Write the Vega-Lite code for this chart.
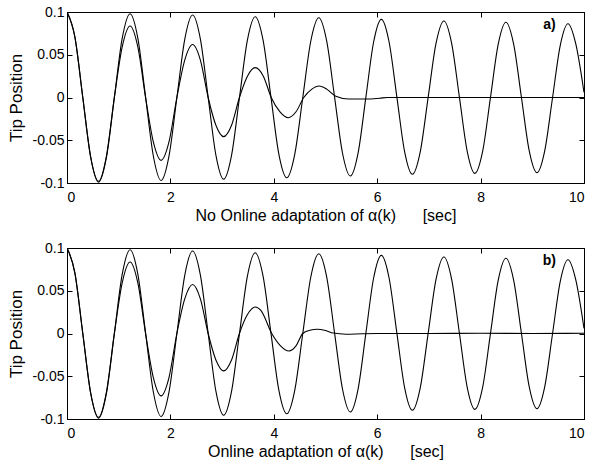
{
  "$schema": "https://vega.github.io/schema/vega-lite/v6.json",
  "padding": {"left": 6, "top": 4, "right": 4, "bottom": 4},
  "background": "white",
  "config": {
    "font": "Liberation Sans",
    "view": {"stroke": "black", "strokeWidth": 1},
    "axis": {
      "grid": false,
      "domainColor": "black",
      "tickColor": "black",
      "tickSize": -5,
      "labelFont": "Liberation Sans",
      "labelFontSize": 14,
      "labelColor": "black",
      "titleFont": "Liberation Sans",
      "titleFontSize": 16,
      "titleFontWeight": "normal",
      "titleColor": "black"
    }
  },
  "datasets": {
    "u": [
      {"t": 0, "y": 0.1}, {"t": 0.1525, "y": 0.0708}, {"t": 0.305, "y": 0.0005}, {"t": 0.4575, "y": -0.0698}, {"t": 0.61, "y": -0.099},
      {"t": 0.7625, "y": -0.0701}, {"t": 0.915, "y": -0.0005}, {"t": 1.0675, "y": 0.0691}, {"t": 1.22, "y": 0.098},
      {"t": 1.37, "y": 0.0694}, {"t": 1.52, "y": 0.0005}, {"t": 1.67, "y": -0.0684}, {"t": 1.82, "y": -0.097},
      {"t": 1.9725, "y": -0.0686}, {"t": 2.125, "y": -0.0003}, {"t": 2.2775, "y": 0.0681}, {"t": 2.43, "y": 0.0965},
      {"t": 2.58, "y": 0.0683}, {"t": 2.73, "y": 0.0004}, {"t": 2.88, "y": -0.0675}, {"t": 3.03, "y": -0.0957},
      {"t": 3.1825, "y": -0.0678}, {"t": 3.335, "y": -0.0006}, {"t": 3.4875, "y": 0.0666}, {"t": 3.64, "y": 0.0945},
      {"t": 3.7925, "y": 0.067}, {"t": 3.945, "y": 0.0004}, {"t": 4.0975, "y": -0.0662}, {"t": 4.25, "y": -0.0938},
      {"t": 4.405, "y": -0.0664}, {"t": 4.56, "y": -0.0003}, {"t": 4.715, "y": 0.0658}, {"t": 4.87, "y": 0.0933},
      {"t": 5.0225, "y": 0.0662}, {"t": 5.175, "y": 0.0008}, {"t": 5.3275, "y": -0.0646}, {"t": 5.48, "y": -0.0918},
      {"t": 5.63, "y": -0.065}, {"t": 5.78, "y": -0.0002}, {"t": 5.93, "y": 0.0646}, {"t": 6.08, "y": 0.0914},
      {"t": 6.23, "y": 0.0649}, {"t": 6.38, "y": 0.0008}, {"t": 6.53, "y": -0.0633}, {"t": 6.68, "y": -0.0898},
      {"t": 6.8325, "y": -0.0636}, {"t": 6.985, "y": -0.0002}, {"t": 7.1375, "y": 0.0632}, {"t": 7.29, "y": 0.0895},
      {"t": 7.44, "y": 0.0634}, {"t": 7.59, "y": 0.0004}, {"t": 7.74, "y": -0.0626}, {"t": 7.89, "y": -0.0887},
      {"t": 8.04, "y": -0.0628}, {"t": 8.19, "y": -0.0004}, {"t": 8.34, "y": 0.0621}, {"t": 8.49, "y": 0.088},
      {"t": 8.64, "y": 0.0622}, {"t": 8.79, "y": 0}, {"t": 8.94, "y": -0.0622}, {"t": 9.09, "y": -0.088},
      {"t": 9.24, "y": -0.0625}, {"t": 9.39, "y": -0.0009}, {"t": 9.54, "y": 0.0608}, {"t": 9.69, "y": 0.0863},
      {"t": 9.84, "y": 0.063}, {"t": 10, "y": 0.006}
    ],
    "da": [
      {"t": 0, "y": 0.1}, {"t": 0.1525, "y": 0.0707}, {"t": 0.305, "y": 0.0}, {"t": 0.4575, "y": -0.0693}, {"t": 0.61, "y": -0.098},
      {"t": 0.7625, "y": -0.0685}, {"t": 0.915, "y": -0.0005}, {"t": 1.0675, "y": 0.0591}, {"t": 1.22, "y": 0.0836},
      {"t": 1.37, "y": 0.0591}, {"t": 1.52, "y": 0.0}, {"t": 1.67, "y": -0.052}, {"t": 1.82, "y": -0.0735},
      {"t": 1.9725, "y": -0.052}, {"t": 2.125, "y": 0.0}, {"t": 2.2775, "y": 0.0438}, {"t": 2.43, "y": 0.062},
      {"t": 2.58, "y": 0.0438}, {"t": 2.73, "y": 0.0}, {"t": 2.88, "y": -0.0324}, {"t": 3.03, "y": -0.0458},
      {"t": 3.1825, "y": -0.0324}, {"t": 3.335, "y": 0.0}, {"t": 3.4875, "y": 0.0247}, {"t": 3.64, "y": 0.0349},
      {"t": 3.8, "y": 0.0247}, {"t": 3.95, "y": 0.0}, {"t": 4.12, "y": -0.0167}, {"t": 4.28, "y": -0.0236},
      {"t": 4.43, "y": -0.0167}, {"t": 4.58, "y": 0.0}, {"t": 4.73, "y": 0.0095}, {"t": 4.88, "y": 0.0134},
      {"t": 5.03, "y": 0.0095}, {"t": 5.2, "y": 0.0015}, {"t": 5.45, "y": -0.0018}, {"t": 5.8, "y": -0.0018},
      {"t": 6.05, "y": -0.0008}, {"t": 6.2, "y": 0}, {"t": 7, "y": 0}, {"t": 8, "y": 0}, {"t": 9, "y": 0}, {"t": 10, "y": 0}
    ],
    "db": [
      {"t": 0, "y": 0.1}, {"t": 0.1525, "y": 0.0707}, {"t": 0.305, "y": 0.0}, {"t": 0.4575, "y": -0.0693}, {"t": 0.61, "y": -0.098},
      {"t": 0.7625, "y": -0.0685}, {"t": 0.915, "y": -0.0005}, {"t": 1.0675, "y": 0.0592}, {"t": 1.22, "y": 0.0837},
      {"t": 1.37, "y": 0.0592}, {"t": 1.52, "y": 0.0}, {"t": 1.67, "y": -0.0515}, {"t": 1.82, "y": -0.0729},
      {"t": 1.9725, "y": -0.0515}, {"t": 2.125, "y": 0.0}, {"t": 2.2775, "y": 0.0405}, {"t": 2.43, "y": 0.0573},
      {"t": 2.58, "y": 0.0405}, {"t": 2.73, "y": 0.0}, {"t": 2.88, "y": -0.0309}, {"t": 3.03, "y": -0.0437},
      {"t": 3.1825, "y": -0.0309}, {"t": 3.335, "y": 0.0}, {"t": 3.4875, "y": 0.0219}, {"t": 3.64, "y": 0.031},
      {"t": 3.75, "y": 0.027}, {"t": 3.96, "y": 0.0}, {"t": 4.13, "y": -0.0144}, {"t": 4.29, "y": -0.0204},
      {"t": 4.43, "y": -0.0144}, {"t": 4.56, "y": 0.0}, {"t": 4.7, "y": 0.0038}, {"t": 4.84, "y": 0.005},
      {"t": 5.0, "y": 0.0035}, {"t": 5.15, "y": 0.0005}, {"t": 5.4, "y": -0.0008}, {"t": 5.7, "y": -0.0003},
      {"t": 6.0, "y": 0.0}, {"t": 7, "y": 0}, {"t": 8, "y": 0.0003}, {"t": 9, "y": 0}, {"t": 10, "y": 0.0003}
    ]
  },
  "vconcat": [
    {
      "width": 517,
      "height": 171,
      "layer": [
        {
          "data": {"name": "u"},
          "mark": {"type": "line", "color": "black", "strokeWidth": 1.1, "interpolate": "monotone", "clip": true},
          "encoding": {
            "x": {"field": "t", "type": "quantitative", "scale": {"domain": [0, 10], "nice": false, "zero": false},
                  "axis": {"values": [0, 2, 4, 6, 8, 10], "labelExpr": "'' + datum.value", "labelPadding": 12, "titlePadding": 3,
                           "title": "No Online adaptation of α(k)\u00a0\u00a0\u00a0\u00a0\u00a0\u00a0[sec]"}},
            "y": {"field": "y", "type": "quantitative", "scale": {"domain": [-0.1, 0.1], "nice": false, "zero": false},
                  "axis": {"values": [-0.1, -0.05, 0, 0.05, 0.1], "labelExpr": "'' + datum.value", "labelPadding": 8, "titlePadding": 7,
                           "title": "Tip Position", "titleFontSize": 17}}
          }
        },
        {
          "data": {"name": "da"},
          "mark": {"type": "line", "color": "black", "strokeWidth": 1.1, "interpolate": "monotone", "clip": true},
          "encoding": {
            "x": {"field": "t", "type": "quantitative", "axis": null},
            "y": {"field": "y", "type": "quantitative", "axis": null}
          }
        },
        {
          "data": {"values": [{"t": 9.33, "y": 0.085, "label": "a)"}]},
          "mark": {"type": "text", "fontWeight": "bold", "fontSize": 14, "color": "black", "align": "center", "baseline": "middle"},
          "encoding": {
            "x": {"field": "t", "type": "quantitative",
                  "axis": {"orient": "top", "values": [0, 2, 4, 6, 8, 10], "labels": false, "title": null, "domain": false}},
            "y": {"field": "y", "type": "quantitative",
                  "axis": {"orient": "right", "values": [-0.1, -0.05, 0, 0.05, 0.1], "labels": false, "title": null, "domain": false}},
            "text": {"field": "label"}
          }
        }
      ],
      "resolve": {"axis": {"x": "independent", "y": "independent"}}
    },
    {
      "width": 517,
      "height": 171,
      "layer": [
        {
          "data": {"name": "u"},
          "mark": {"type": "line", "color": "black", "strokeWidth": 1.1, "interpolate": "monotone", "clip": true},
          "encoding": {
            "x": {"field": "t", "type": "quantitative", "scale": {"domain": [0, 10], "nice": false, "zero": false},
                  "axis": {"values": [0, 2, 4, 6, 8, 10], "labelExpr": "'' + datum.value", "labelPadding": 12, "titlePadding": 3,
                           "title": "Online adaptation of α(k)\u00a0\u00a0\u00a0\u00a0\u00a0\u00a0[sec]"}},
            "y": {"field": "y", "type": "quantitative", "scale": {"domain": [-0.1, 0.1], "nice": false, "zero": false},
                  "axis": {"values": [-0.1, -0.05, 0, 0.05, 0.1], "labelExpr": "'' + datum.value", "labelPadding": 8, "titlePadding": 7,
                           "title": "Tip Position", "titleFontSize": 17}}
          }
        },
        {
          "data": {"name": "db"},
          "mark": {"type": "line", "color": "black", "strokeWidth": 1.1, "interpolate": "monotone", "clip": true},
          "encoding": {
            "x": {"field": "t", "type": "quantitative", "axis": null},
            "y": {"field": "y", "type": "quantitative", "axis": null}
          }
        },
        {
          "data": {"values": [{"t": 9.33, "y": 0.085, "label": "b)"}]},
          "mark": {"type": "text", "fontWeight": "bold", "fontSize": 14, "color": "black", "align": "center", "baseline": "middle"},
          "encoding": {
            "x": {"field": "t", "type": "quantitative",
                  "axis": {"orient": "top", "values": [0, 2, 4, 6, 8, 10], "labels": false, "title": null, "domain": false}},
            "y": {"field": "y", "type": "quantitative",
                  "axis": {"orient": "right", "values": [-0.1, -0.05, 0, 0.05, 0.1], "labels": false, "title": null, "domain": false}},
            "text": {"field": "label"}
          }
        }
      ],
      "resolve": {"axis": {"x": "independent", "y": "independent"}}
    }
  ],
  "spacing": 65,
  "bounds": "flush"
}
